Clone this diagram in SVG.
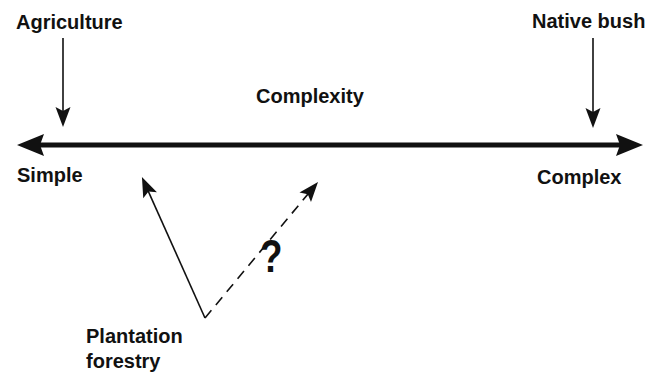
<svg xmlns="http://www.w3.org/2000/svg" width="661" height="376" viewBox="0 0 661 376">
<style>
  .lbl { font-family: "Liberation Sans", Arial, sans-serif; font-weight: bold; font-size: 20px; fill: #111; }
  .q { font-family: "Liberation Sans", Arial, sans-serif; font-weight: bold; font-size: 46px; fill: #111; }
  .thin { stroke: #111; stroke-width: 1.6; fill: none; }
  .thick { stroke: #111; stroke-width: 5; fill: none; }
</style>
<defs>
  <marker id="bigHead" markerUnits="userSpaceOnUse" markerWidth="40" markerHeight="30" refX="0" refY="0" orient="auto-start-reverse" overflow="visible">
    <path d="M20,0 L-7,-11 L-3,0 L-7,11 Z" fill="#111"/>
  </marker>
  <marker id="smallHead" markerUnits="userSpaceOnUse" markerWidth="30" markerHeight="20" refX="0" refY="0" orient="auto" overflow="visible">
    <path d="M8,0 L-12,-7.5 L-8,0 L-12,7.5 Z" fill="#111"/>
  </marker>
</defs>
<rect width="661" height="376" fill="#fff"/>
<g id="connectors">
  <line class="thick" x1="37" y1="145" x2="623" y2="145" marker-start="url(#bigHead)" marker-end="url(#bigHead)"/>
  <line class="thin" x1="63" y1="38" x2="63" y2="119" marker-end="url(#smallHead)"/>
  <line class="thin" x1="593" y1="38" x2="593" y2="120" marker-end="url(#smallHead)"/>
  <line class="thin" x1="205" y1="318" x2="145.2" y2="184.3" marker-end="url(#smallHead)"/>
  <line class="thin" x1="205" y1="318" x2="312.9" y2="188.1" stroke-dasharray="10 7" marker-end="url(#smallHead)"/>
</g>
<g id="agriculture"><text class="lbl" x="16" y="29">Agriculture</text></g>
<g id="native-bush"><text class="lbl" x="532" y="28">Native bush</text></g>
<g id="complexity"><text class="lbl" x="256" y="103">Complexity</text></g>
<g id="simple"><text class="lbl" x="17" y="182">Simple</text></g>
<g id="complex"><text class="lbl" x="537" y="184">Complex</text></g>
<g id="plantation-forestry">
  <text class="lbl" x="86" y="343">Plantation</text>
  <text class="lbl" x="86" y="368">forestry</text>
</g>
<g id="question"><text class="q" transform="translate(260,272) scale(0.8,1)">?</text></g>
</svg>
